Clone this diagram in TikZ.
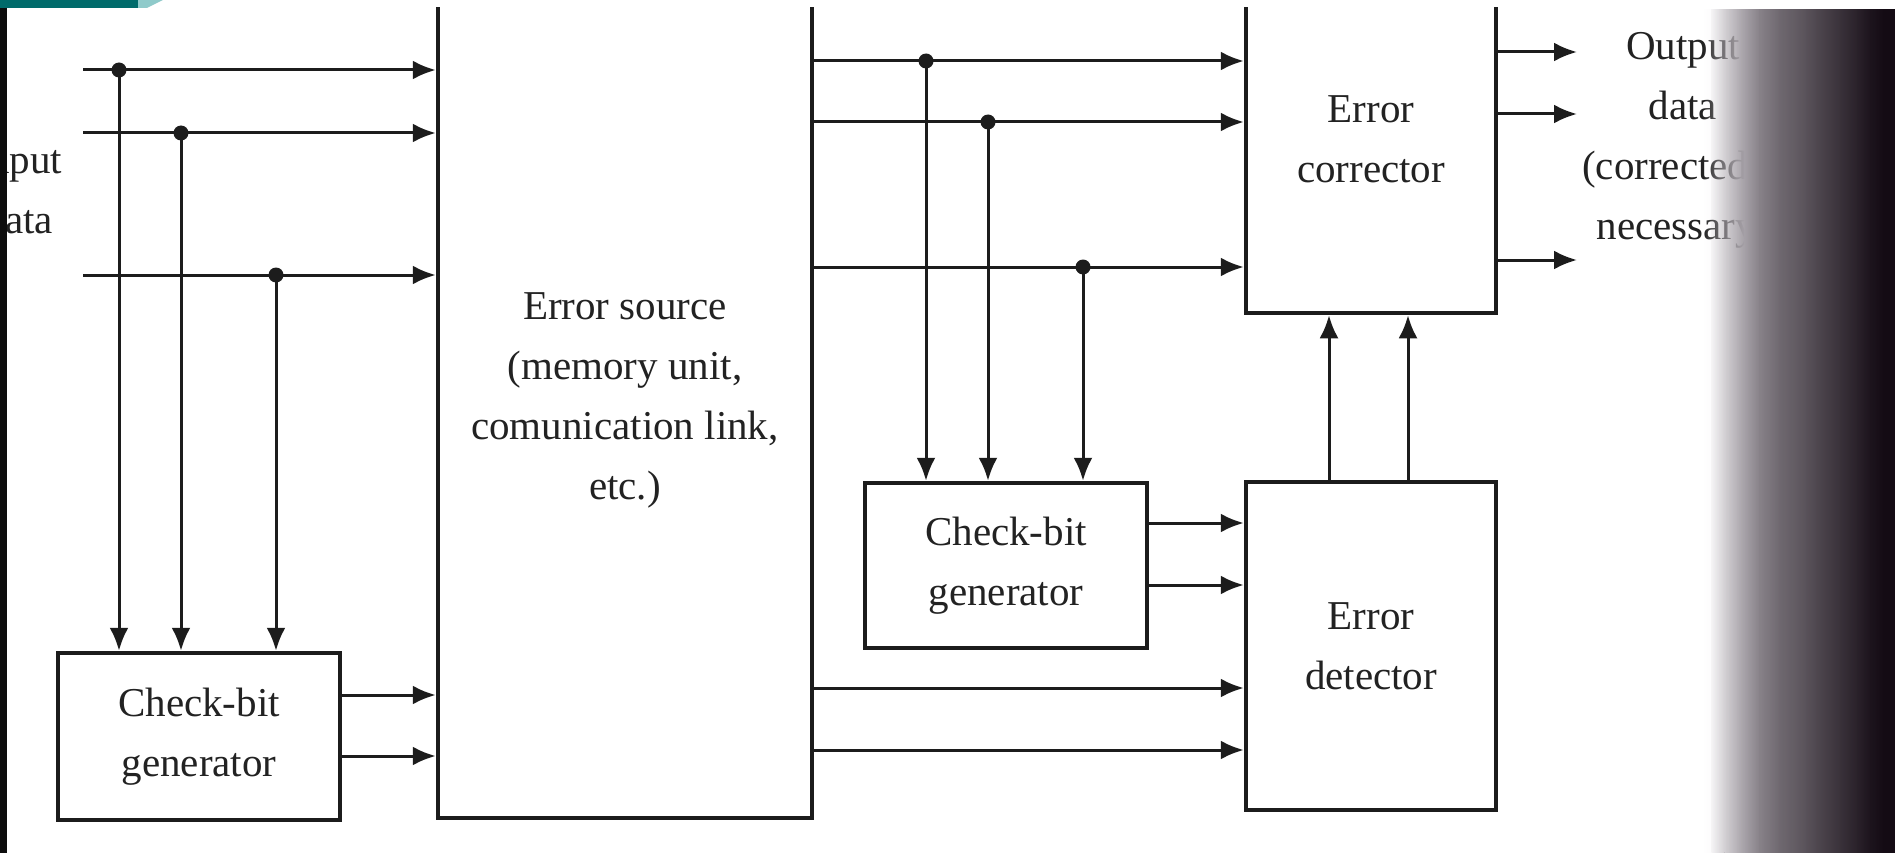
\documentclass[tikz,border=0pt]{standalone}
\usepackage{fontspec}
\setmainfont{Liberation Serif}
\usetikzlibrary{arrows.meta,fadings}

\definecolor{ink}{HTML}{1C1C1C}
\definecolor{txt}{HTML}{222222}
\definecolor{tabteal}{HTML}{006B6B}
\definecolor{tablight}{HTML}{8FCACA}
\definecolor{edgedark}{HTML}{140B14}
\definecolor{paper}{HTML}{F2EFF4}

% darkening ramp along the right edge of the page
% (the filled path is mapped onto -25bp..25bp of this picture)
\begin{tikzfadingfrompicture}[name=edgefade]
  \fill[transparent!100] (-50bp,-50bp) rectangle (-21.9bp,50bp);
  \shade[left color=transparent!97, right color=transparent!84] (-22bp,-50bp) rectangle (-18.6bp,50bp);
  \shade[left color=transparent!84, right color=transparent!70] (-18.7bp,-50bp) rectangle (-14.7bp,50bp);
  \shade[left color=transparent!70, right color=transparent!52] (-14.8bp,-50bp) rectangle (-9.6bp,50bp);
  \shade[left color=transparent!52, right color=transparent!41] (-9.7bp,-50bp) rectangle (-4.5bp,50bp);
  \shade[left color=transparent!41, right color=transparent!34] (-4.6bp,-50bp) rectangle (0.6bp,50bp);
  \shade[left color=transparent!34, right color=transparent!25] (0.5bp,-50bp) rectangle (5.8bp,50bp);
  \shade[left color=transparent!25, right color=transparent!17] (5.7bp,-50bp) rectangle (10.9bp,50bp);
  \shade[left color=transparent!17, right color=transparent!11] (10.8bp,-50bp) rectangle (14.7bp,50bp);
  \shade[left color=transparent!11, right color=transparent!4] (14.6bp,-50bp) rectangle (18.6bp,50bp);
  \shade[left color=transparent!4, right color=transparent!0] (18.5bp,-50bp) rectangle (22.4bp,50bp);
  \fill[transparent!0] (22.3bp,-50bp) rectangle (50bp,50bp);
\end{tikzfadingfrompicture}

% the paper washes out towards the binding
\begin{tikzfadingfrompicture}[name=washfade]
  \fill[transparent!100] (-50bp,-50bp) rectangle (-24bp,50bp);
  \shade[left color=transparent!100, right color=transparent!0] (-24.1bp,-50bp) rectangle (-13.5bp,50bp);
  \fill[transparent!0] (-13.6bp,-50bp) rectangle (50bp,50bp);
\end{tikzfadingfrompicture}

\tikzset{
  blk/.style={draw=ink, line width=4.5pt, fill=white, inner sep=0pt,
              align=center, text=txt, font=\fontsize{41}{60}\selectfont},
  lbl/.style={align=center, text=txt, inner sep=0pt,
              font=\fontsize{41}{60}\selectfont},
  wire/.style={draw=ink, line width=3pt},
  sig/.style={wire, -{Latex[length=23pt,width=19pt]}},
  dot/.style={fill=ink},
}

\begin{document}
\begin{tikzpicture}[x=1pt, y=-1pt]
\useasboundingbox (0,0) rectangle (1895,853);
\fill[white] (0,0) rectangle (1895,853);

\begin{scope}
\clip (0,8) rectangle (1895,853);

% blocks
\node[blk, minimum width=282pt, minimum height=167pt] (lgen) at (199,736.5) {Check-bit\\generator};
\node[blk, minimum width=374pt, minimum height=836pt] (src) at (625,400)
  {Error source\\(memory unit,\\comunication link,\\etc.)};
\node[blk, minimum width=282pt, minimum height=165pt] (rgen) at (1006,565.5) {Check-bit\\generator};
\node[blk, minimum width=250pt, minimum height=347pt] (cor) at (1371,139.5) {Error\\corrector};
\node[blk, minimum width=250pt, minimum height=328pt] (det) at (1371,646) {Error\\detector};

% labels
\node[lbl] (inlbl) at (19,190) {Input\\data};
\node[lbl] (outlbl) at (1683,140) {Output\\data\\(corrected if\\necessary)};

% input data lines and their taps
\coordinate (in1) at (83,70);
\coordinate (in2) at (83,133);
\coordinate (in3) at (83,275);
\coordinate (a1) at (119,70);
\coordinate (a2) at (181,133);
\coordinate (a3) at (276,275);
\draw[sig] (in1) -- (in1 -| src.west);
\draw[sig] (in2) -- (in2 -| src.west);
\draw[sig] (in3) -- (in3 -| src.west);
\draw[sig] (a1) -- (a1 |- lgen.north);
\draw[sig] (a2) -- (a2 |- lgen.north);
\draw[sig] (a3) -- (a3 |- lgen.north);
\foreach \p in {a1,a2,a3} \fill[dot] (\p) circle (7.5pt);

% check bits into the error source
\coordinate (c1) at (0,695);
\coordinate (c2) at (0,756);
\draw[sig] (c1 -| lgen.east) -- (c1 -| src.west);
\draw[sig] (c2 -| lgen.east) -- (c2 -| src.west);

% data out of the error source to the corrector, tapped for the second generator
\coordinate (d1) at (0,61);
\coordinate (d2) at (0,122);
\coordinate (d3) at (0,267);
\coordinate (b1) at (926,61);
\coordinate (b2) at (988,122);
\coordinate (b3) at (1083,267);
\draw[sig] (d1 -| src.east) -- (d1 -| cor.west);
\draw[sig] (d2 -| src.east) -- (d2 -| cor.west);
\draw[sig] (d3 -| src.east) -- (d3 -| cor.west);
\draw[sig] (b1) -- (b1 |- rgen.north);
\draw[sig] (b2) -- (b2 |- rgen.north);
\draw[sig] (b3) -- (b3 |- rgen.north);
\foreach \p in {b1,b2,b3} \fill[dot] (\p) circle (7.5pt);

% regenerated check bits into the detector
\coordinate (e1) at (0,523);
\coordinate (e2) at (0,585);
\draw[sig] (e1 -| rgen.east) -- (e1 -| det.west);
\draw[sig] (e2 -| rgen.east) -- (e2 -| det.west);

% stored check bits into the detector
\coordinate (f1) at (0,688);
\coordinate (f2) at (0,750);
\draw[sig] (f1 -| src.east) -- (f1 -| det.west);
\draw[sig] (f2 -| src.east) -- (f2 -| det.west);

% detector to corrector
\coordinate (u1) at (1329,0);
\coordinate (u2) at (1408,0);
\draw[sig] (u1 |- det.north) -- (u1 |- cor.south);
\draw[sig] (u2 |- det.north) -- (u2 |- cor.south);

% corrected output
\coordinate (o1) at (1577,52);
\coordinate (o2) at (1577,114);
\coordinate (o3) at (1577,260);
\draw[sig] (o1 -| cor.east) -- (o1);
\draw[sig] (o2 -| cor.east) -- (o2);
\draw[sig] (o3 -| cor.east) -- (o3);

% page edges
\fill[paper, path fading=washfade] (1700,8) rectangle (1895,853);
\fill[edgedark, path fading=edgefade] (1700,8) rectangle (1895,853);
\fill[black!95] (0,8) rectangle (7,853);
\end{scope}

% tab in the top left corner
\fill[tabteal] (0,0) rectangle (140,8);
\fill[tablight] (138,0) -- (163,0) -- (147,8) -- (138,8) -- cycle;
\end{tikzpicture}
\end{document}
